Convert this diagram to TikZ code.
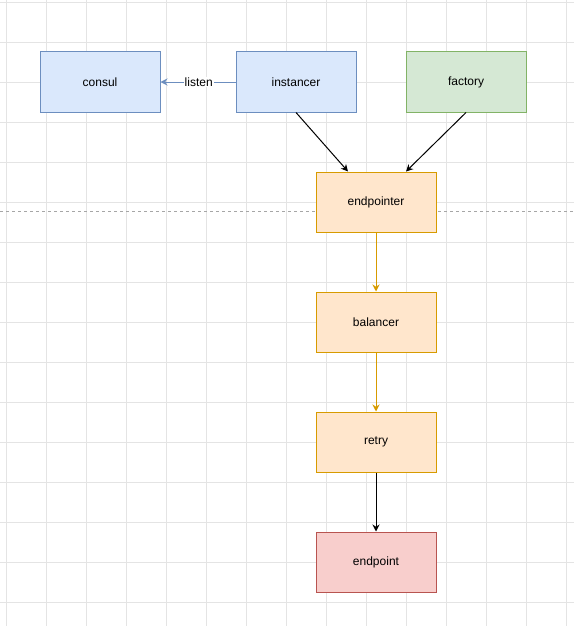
\documentclass[tikz,border=0pt]{standalone}
\usepackage{fontspec}
\setmainfont{Liberation Sans}
\usepackage{xcolor}
\definecolor{bluefill}{HTML}{DAE8FC}
\definecolor{bluedraw}{HTML}{6C8EBF}
\definecolor{greenfill}{HTML}{D5E8D4}
\definecolor{greendraw}{HTML}{82B366}
\definecolor{orangefill}{HTML}{FFE6CC}
\definecolor{orangedraw}{HTML}{D79B00}
\definecolor{redfill}{HTML}{F8CECC}
\definecolor{reddraw}{HTML}{B85450}
\definecolor{gridline}{HTML}{E4E4E4}
\usepackage{tikz}
\usetikzlibrary{positioning,arrows.meta}

\begin{document}
\begin{tikzpicture}[x=1pt, y=-1pt,
    every node/.style={font=\fontsize{12}{14}\selectfont},
    box/.style={draw, line width=1pt, minimum width=120pt,
                minimum height=60pt, align=center, inner sep=0pt},
    blue box/.style={box, fill=bluefill, draw=bluedraw},
    green box/.style={box, fill=greenfill, draw=greendraw},
    orange box/.style={box, fill=orangefill, draw=orangedraw},
    red box/.style={box, fill=redfill, draw=reddraw},
    arr/.style={-{Stealth[length=7pt, width=7pt]}, line width=1pt}]
  % canvas and grid
  \fill[white] (0,0) rectangle (574,626);
  \useasboundingbox (0,0) rectangle (574,626);
  \foreach \gx in {6.7,46.7,...,574} \draw[gridline, line width=1pt] (\gx,0) -- (\gx,626);
  \foreach \gy in {2.7,42.7,...,626} \draw[gridline, line width=1pt] (0,\gy) -- (574,\gy);
  \draw[gray!70, line width=0.8pt, dash pattern=on 3pt off 3pt] (0,211) -- (574,211);
  % nodes
  \node[blue box]   (consul)    at (100,82)  {consul};
  \node[blue box, right=75pt of consul]    (instancer) {instancer};
  \node[green box, right=49pt of instancer] (factory)  {factory};
  \node[orange box] (endpointer) at (376,202) {endpointer};
  \node[orange box, below=59pt of endpointer] (balancer) {balancer};
  \node[orange box, below=59pt of balancer]   (retry)    {retry};
  \node[red box, below=59pt of retry]         (endpoint) {endpoint};
  % connectors
  \draw[arr, bluedraw] (instancer.west) -- node[fill=white, inner sep=1pt, text=black, pos=0.49] {listen} (consul.east);
  \draw[arr] (instancer.south) -- ([xshift=-28pt]endpointer.north);
  \draw[arr] (factory.south) -- ([xshift=30pt]endpointer.north);
  \draw[arr, orangedraw] (endpointer.south) -- (balancer.north);
  \draw[arr, orangedraw] (balancer.south) -- (retry.north);
  \draw[arr] (retry.south) -- (endpoint.north);
\end{tikzpicture}
\end{document}
